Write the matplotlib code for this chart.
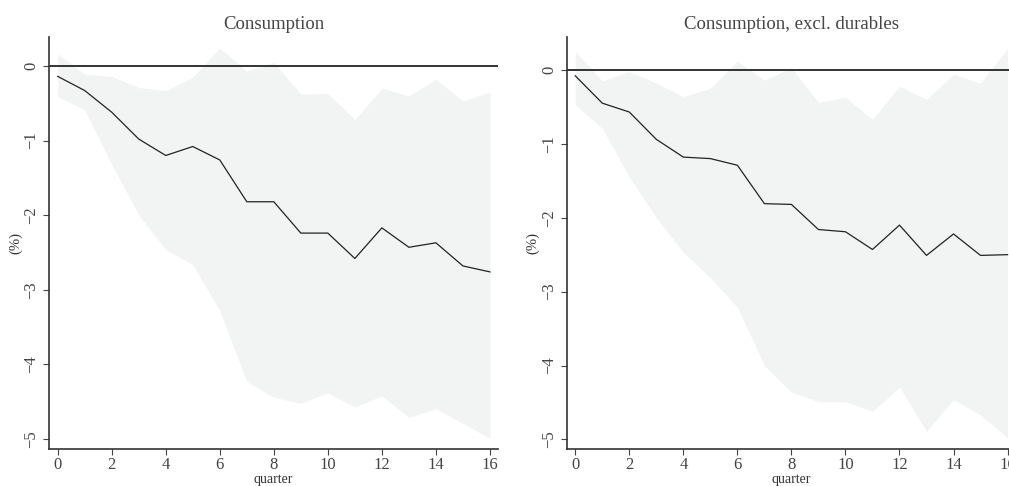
import matplotlib
matplotlib.use('Agg')
from matplotlib import pyplot as plt

plt.rcParams['font.family'] = ['Liberation Serif', 'DejaVu Serif']

quarters = list(range(17))

# Consumption
cons = [-0.14, -0.33, -0.62, -0.98, -1.20, -1.08, -1.26, -1.82, -1.82,
        -2.24, -2.24, -2.58, -2.17, -2.43, -2.37, -2.68, -2.76]
cons_hi = [0.16, -0.11, -0.14, -0.29, -0.33, -0.15, 0.24, -0.07, 0.05,
           -0.38, -0.37, -0.72, -0.30, -0.40, -0.18, -0.47, -0.35]
cons_lo = [-0.41, -0.59, -1.32, -2.00, -2.46, -2.66, -3.28, -4.23, -4.44,
           -4.52, -4.38, -4.57, -4.42, -4.71, -4.59, -4.79, -4.99]

# Consumption, excl. durables
nd = [-0.08, -0.45, -0.57, -0.94, -1.18, -1.20, -1.29, -1.81, -1.82,
      -2.16, -2.19, -2.43, -2.10, -2.51, -2.22, -2.51, -2.50]
nd_hi = [0.25, -0.15, -0.02, -0.18, -0.36, -0.25, 0.12, -0.14, 0.03,
         -0.44, -0.37, -0.67, -0.22, -0.40, -0.06, -0.18, 0.29]
nd_lo = [-0.47, -0.79, -1.45, -2.00, -2.47, -2.81, -3.21, -4.00, -4.36,
         -4.49, -4.49, -4.62, -4.29, -4.89, -4.46, -4.67, -4.98]

fig = plt.figure(figsize=(10.09, 4.86), dpi=100)
ax1 = fig.add_axes([0.0486, 0.0761, 0.445, 0.8477])
ax2 = fig.add_axes([0.5616, 0.0761, 0.445, 0.8477])

panels = [(ax1, 'Consumption', cons, cons_lo, cons_hi, (0.387, -5.133)),
          (ax2, 'Consumption, excl. durables', nd, nd_lo, nd_hi, (0.445, -5.13))]

for ax, title, mid, lo, hi, yl in panels:
    ax.fill_between(quarters, lo, hi, color='#f2f3f3', linewidth=0)
    ax.axhline(0, color='#333333', linewidth=1.4)
    ax.plot(quarters, mid, color='#222222', linewidth=0.9)
    ax.set_xlim(-0.32, 16.3)
    ax.set_ylim(yl[1], yl[0])
    ax.set_xticks(range(0, 17, 2))
    ax.set_yticks(range(-5, 1))
    ax.set_yticklabels(['\u22125', '\u22124', '\u22123', '\u22122', '\u22121', '0'],
                       rotation=90, va='center')
    ax.tick_params(direction='out', length=4, labelsize=12, colors='#444444',
                   labelcolor='#444444', pad=3)
    ax.tick_params(axis='x', pad=2)
    for s in ['top', 'right']:
        ax.spines[s].set_visible(False)
    for s in ['left', 'bottom']:
        ax.spines[s].set_color('#333333')
        ax.spines[s].set_linewidth(1.2)
    ax.set_title(title, fontsize=13.5, color='#444444', pad=5.5)
    ax.set_xlabel('quarter', fontsize=10, color='#333333', va='bottom')
    ax.xaxis.set_label_coords(0.5, -0.0886)
    ax.set_ylabel('(%)', fontsize=10.5, color='#333333', labelpad=1)

fig.savefig('out.png', dpi=100)
